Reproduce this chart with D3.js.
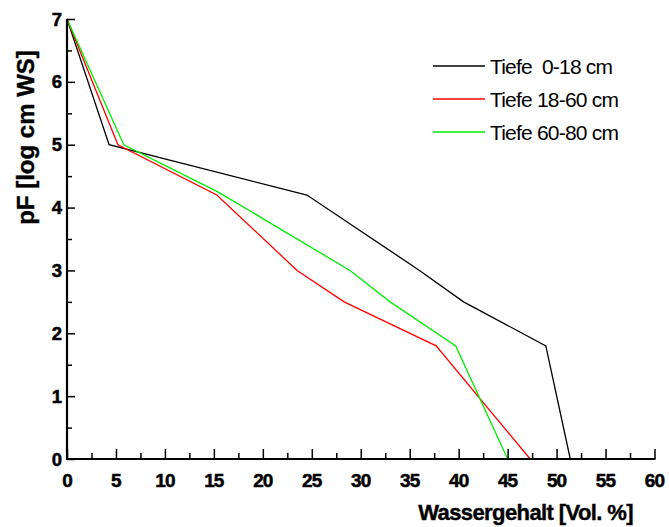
<!DOCTYPE html>
<html>
<head>
<meta charset="utf-8">
<script src="https://cdn.jsdelivr.net/npm/d3@7"></script>
<style>
  html, body { margin: 0; padding: 0; background: #fff; }
  svg { display: block; font-family: "Liberation Sans", Arial, sans-serif; }
</style>
</head>
<body>
<svg id="chart" width="669" height="527"></svg>
<script>
// ---- data ----
const seriesNames = ["Tiefe  0-18 cm", "Tiefe 18-60 cm", "Tiefe 60-80 cm"];
const seriesColors = ["#000000", "#ff0000", "#00ee00"];

const wc0_18  = [0, 4.3, 24.5, 36.0, 40.5, 48.9, 51.4];
const pf0_18  = [7, 5.0, 4.2, 3.0, 2.5, 1.8, 0];

const wc18_60 = [0, 5.2, 15.3, 23.5, 28.3, 37.7, 47.3];
const pf18_60 = [7, 5.0, 4.2, 3.0, 2.5, 1.8, 0];

const wc60_80 = [0, 5.8, 15.4, 28.9, 33.0, 39.7, 45.0];
const pf60_80 = [7, 5.0, 4.25, 3.0, 2.5, 1.8, 0];

const xTicks = [0, 5, 10, 15, 20, 25, 30, 35, 40, 45, 50, 55, 60];
const yTicks = [0, 1, 2, 3, 4, 5, 6, 7];
const xTitle = "Wassergehalt [Vol. %]";
const yTitle = "pF [log cm WS]";

// ---- layout ----
const svg = d3.select("#chart");
const x = d3.scaleLinear().domain([0, 60]).range([67, 654.5]);
const y = d3.scaleLinear().domain([0, 7]).range([459, 19]);

const series = [
  { name: seriesNames[0], color: seriesColors[0], xs: wc0_18,  ys: pf0_18 },
  { name: seriesNames[1], color: seriesColors[1], xs: wc18_60, ys: pf18_60 },
  { name: seriesNames[2], color: seriesColors[2], xs: wc60_80, ys: pf60_80 }
];

const line = d3.line().x(d => x(d[0])).y(d => y(d[1]));

// data lines
series.forEach(s => {
  const pts = s.xs.map((v, i) => [v, s.ys[i]]);
  svg.append("path")
    .datum(pts)
    .attr("fill", "none")
    .attr("stroke", s.color)
    .attr("stroke-width", 1.3)
    .attr("stroke-linejoin", "miter")
    .attr("d", line);
});

// x axis (ticks pointing inward/up)
const xMinor = d3.range(2.5, 60, 5);
const gx = svg.append("g").attr("transform", `translate(0,${y(0)})`);
gx.call(d3.axisTop(x).tickValues(xMinor).tickSize(6).tickFormat(""))
  .call(g => g.select(".domain").remove());
gx.selectAll(".tick line").attr("stroke", "#000").attr("stroke-width", 1.5);
const gx2 = svg.append("g").attr("transform", `translate(0,${y(0)})`);
gx2.call(d3.axisTop(x).tickValues(xTicks).tickSize(10).tickFormat(""))
  .call(g => g.select(".domain").remove());
gx2.selectAll(".tick line").attr("stroke", "#000").attr("stroke-width", 1.5);
svg.append("line")
  .attr("x1", x(0) - 1).attr("x2", x(60) + 1)
  .attr("y1", y(0)).attr("y2", y(0))
  .attr("stroke", "#000").attr("stroke-width", 2.2);
svg.append("g").selectAll("text").data(xTicks).join("text")
  .attr("x", d => x(d))
  .attr("y", y(0) + 28)
  .attr("text-anchor", "middle")
  .attr("font-size", 19)
  .attr("font-weight", 700)
  .attr("letter-spacing", -0.9)
  .attr("stroke", "#000")
  .attr("stroke-width", 0.5)
  .text(d => d);

// y axis (ticks pointing inward/right)
const yMinor = d3.range(0.5, 7, 1);
const gy = svg.append("g").attr("transform", `translate(${x(0)},0)`);
gy.call(d3.axisLeft(y).tickValues(yMinor).tickSize(-5).tickFormat(""))
  .call(g => g.select(".domain").remove());
gy.selectAll(".tick line").attr("stroke", "#000").attr("stroke-width", 1.5);
const gy2 = svg.append("g").attr("transform", `translate(${x(0)},0)`);
gy2.call(d3.axisLeft(y).tickValues(yTicks).tickSize(-8).tickFormat(""))
  .call(g => g.select(".domain").remove());
gy2.selectAll(".tick line").attr("stroke", "#000").attr("stroke-width", 1.5);
svg.append("line")
  .attr("x1", x(0)).attr("x2", x(0))
  .attr("y1", y(7)).attr("y2", y(0) + 1)
  .attr("stroke", "#000").attr("stroke-width", 2.2);
svg.append("g").selectAll("text").data(yTicks).join("text")
  .attr("x", x(0) - 5)
  .attr("y", d => y(d) + 6.5)
  .attr("text-anchor", "end")
  .attr("font-size", 18.5)
  .attr("font-weight", 700)
  .attr("stroke", "#000")
  .attr("stroke-width", 0.5)
  .text(d => d);

// axis titles
svg.append("text")
  .attr("x", 633)
  .attr("y", 520)
  .attr("text-anchor", "end")
  .attr("font-size", 22)
  .attr("font-weight", 700)
  .attr("letter-spacing", -0.6)
  .attr("stroke", "#000")
  .attr("stroke-width", 0.4)
  .text(xTitle);

svg.append("text")
  .attr("transform", `translate(34,137.5) rotate(-90)`)
  .attr("text-anchor", "middle")
  .attr("font-size", 24)
  .attr("font-weight", 700)
  .attr("stroke", "#000")
  .attr("stroke-width", 0.4)
  .text(yTitle);

// legend
const legend = svg.append("g");
series.forEach((s, i) => {
  const ly = 66 + i * 33;
  legend.append("line")
    .attr("x1", 433).attr("x2", 485)
    .attr("y1", ly).attr("y2", ly)
    .attr("stroke", s.color).attr("stroke-width", 1.3);
  legend.append("text")
    .attr("x", 490)
    .attr("y", ly + 7.5)
    .attr("font-size", 21)
    .attr("letter-spacing", -0.8)
    .attr("xml:space", "preserve")
    .style("white-space", "pre")
    .text(s.name);
});
</script>
</body>
</html>
